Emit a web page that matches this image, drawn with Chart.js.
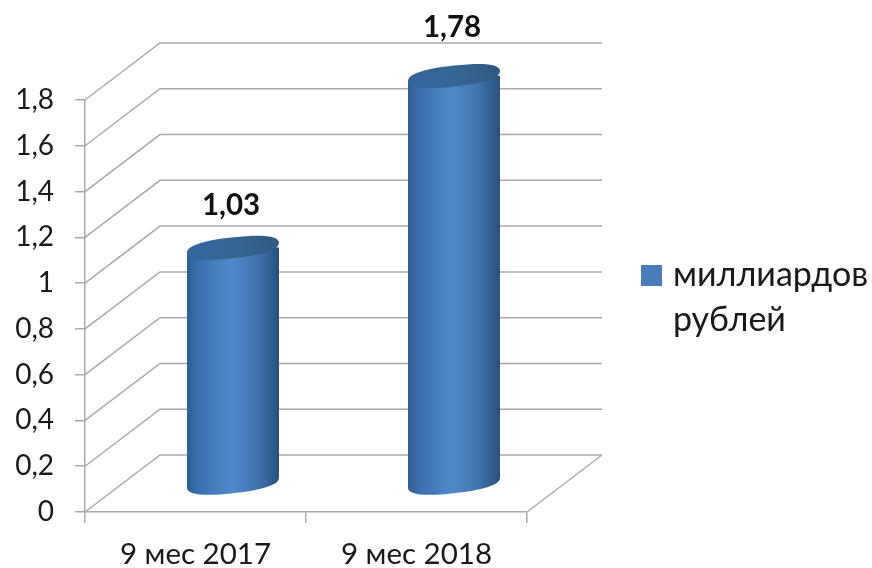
<!DOCTYPE html>
<html lang="ru">
<head>
    <meta charset="UTF-8">
    <title>9 мес 2017 / 2018</title>
    <script src="https://cdn.jsdelivr.net/npm/chart.js"></script>
    <style>
        html, body { margin: 0; background: #fff; }
        canvas { display: block; }
    </style>
</head>
<body>
    <canvas id="myChart" width="872" height="568"></canvas>

    <script>
        const categories = ["9 мес 2017", "9 мес 2018"];
        const values = [1.03, 1.78];
        const valueLabels = ["1,03", "1,78"];
        const seriesName = "миллиардов рублей";
        const legendLines = ["миллиардов", "рублей"];

        const FONT = "Lato, 'Open Sans', sans-serif";
        const LINE = "#a9a9a9";
        // глубина псевдо-3D: задняя стенка и середина пола
        const DEPTH_X = 75, DEPTH_Y = 57;
        const BAR_W = 92, TILT = 5, CAP_RY = 10.5;
        // расстояние от центра крышки до базовой линии подписи
        const labelLift = [33, 39];

        function bodyGradient(ctx, cx) {
            const left = cx - BAR_W / 2;
            const g = ctx.createLinearGradient(left, 0, left + BAR_W, 0);
            g.addColorStop(0, "#2f5c92");
            g.addColorStop(0.12, "#3b70ae");
            g.addColorStop(0.48, "#4f88c9");
            g.addColorStop(0.75, "#4375b0");
            g.addColorStop(0.93, "#2f5a8c");
            g.addColorStop(1, "#2a5079");
            return g;
        }

        // крышка цилиндра: скруглённый эллипс со сдвигом, края совпадают с боками столбца
        function fillCap(ctx, cx, cy, fill) {
            const a = BAR_W / 2, b = CAP_RY, k = 0.66;
            ctx.save();
            ctx.transform(1, -TILT / a, 0, 1, cx, cy);
            ctx.beginPath();
            ctx.moveTo(-a, 0);
            ctx.bezierCurveTo(-a, -k * b, -k * a, -b, 0, -b);
            ctx.bezierCurveTo(k * a, -b, a, -k * b, a, 0);
            ctx.bezierCurveTo(a, k * b, k * a, b, 0, b);
            ctx.bezierCurveTo(-k * a, b, -a, k * b, -a, 0);
            ctx.closePath();
            ctx.restore();
            ctx.fillStyle = fill;
            ctx.fill();
        }

        // стенки и пол рисуем по шкалам
        const wallsPlugin = {
            id: "walls",
            beforeDatasetsDraw(chart) {
                const { ctx, scales } = chart;
                const left = scales.x.left, right = scales.x.right;
                ctx.save();
                ctx.strokeStyle = LINE;
                ctx.lineWidth = 1.5;
                scales.y.ticks.forEach(t => {
                    const y = scales.y.getPixelForValue(t.value);
                    ctx.beginPath();
                    ctx.moveTo(left, y);
                    ctx.lineTo(left + DEPTH_X, y - DEPTH_Y);
                    ctx.lineTo(right + DEPTH_X, y - DEPTH_Y);
                    ctx.stroke();
                });
                const y0 = scales.y.getPixelForValue(0);
                ctx.beginPath();
                ctx.moveTo(right, y0);
                ctx.lineTo(right + DEPTH_X, y0 - DEPTH_Y);
                ctx.stroke();
                ctx.restore();
            }
        };

        // цилиндры: сам столбец рисует Chart.js, сдвинутый на середину глубины
        const cylinderPlugin = {
            id: "cylinder",
            beforeDatasetDraw(chart, args) {
                const { ctx } = chart;
                const bars = args.meta.data;
                ctx.save();
                ctx.translate(DEPTH_X / 2, -DEPTH_Y / 2);
                bars.forEach(bar => {
                    const g = bodyGradient(ctx, bar.x);
                    const l = bar.x - BAR_W / 2, r = bar.x + BAR_W / 2;
                    fillCap(ctx, bar.x, bar.base, g);
                    // клин под столбцом, чтобы дно не отставало от наклона
                    ctx.beginPath();
                    ctx.moveTo(l, bar.base - TILT);
                    ctx.lineTo(r, bar.base - TILT);
                    ctx.lineTo(l, bar.base + TILT);
                    ctx.closePath();
                    ctx.fillStyle = g;
                    ctx.fill();
                });
                ctx.beginPath();
                bars.forEach(bar => {
                    const l = bar.x - BAR_W / 2, r = bar.x + BAR_W / 2;
                    ctx.moveTo(l, bar.y + TILT);
                    ctx.lineTo(r, bar.y - TILT);
                    ctx.lineTo(r, bar.base - TILT);
                    ctx.lineTo(l, bar.base + TILT);
                    ctx.closePath();
                });
                ctx.clip();
            },
            afterDatasetDraw(chart, args) {
                const { ctx } = chart;
                ctx.restore();
                ctx.save();
                ctx.translate(DEPTH_X / 2, -DEPTH_Y / 2);
                args.meta.data.forEach(bar => {
                    const l = bar.x - BAR_W / 2;
                    const g = ctx.createLinearGradient(l, 0, l + BAR_W, 0);
                    g.addColorStop(0, "#33659f");
                    g.addColorStop(0.5, "#376593");
                    g.addColorStop(1, "#30587f");
                    fillCap(ctx, bar.x, bar.y, g);
                });
                ctx.restore();

                // подписи значений
                ctx.save();
                ctx.font = "bold 29.5px " + FONT;
                ctx.fillStyle = "#111";
                ctx.textAlign = "center";
                ctx.textBaseline = "alphabetic";
                args.meta.data.forEach((bar, i) => {
                    ctx.fillText(valueLabels[i], bar.x + DEPTH_X / 2 - 2, bar.y - DEPTH_Y / 2 - labelLift[i]);
                });
                ctx.restore();
            }
        };

        const legendPlugin = {
            id: "sideLegend",
            afterDraw(chart) {
                const { ctx } = chart;
                ctx.save();
                ctx.fillStyle = "#4a7ebb";
                ctx.fillRect(641, 265, 21, 21);
                ctx.font = "34px " + FONT;
                ctx.fillStyle = "#1a1a1a";
                ctx.textBaseline = "alphabetic";
                legendLines.forEach((line, i) => ctx.fillText(line, 673, 286 + i * 45));
                ctx.restore();
            }
        };

        new Chart(document.getElementById("myChart"), {
            type: "bar",
            data: {
                labels: categories,
                datasets: [{
                    label: seriesName,
                    data: values,
                    barThickness: BAR_W,
                    clip: false,
                    backgroundColor(c) {
                        const cx = c.chart.scales.x ? c.chart.scales.x.getPixelForValue(c.dataIndex) : NaN;
                        if (!Number.isFinite(cx)) return "#4a7ebb";
                        return bodyGradient(c.chart.ctx, cx);
                    }
                }]
            },
            options: {
                responsive: false,
                animation: false,
                layout: { padding: { top: 100, right: 345, left: 0, bottom: 0 } },
                plugins: { legend: { display: false }, tooltip: { enabled: false } },
                scales: {
                    x: {
                        afterFit(scale) { scale.height = 56; },
                        grid: { drawOnChartArea: false, color: LINE, tickLength: 11, lineWidth: 1.5 },
                        border: { color: LINE, width: 1.5 },
                        ticks: { color: "#1a1a1a", font: { family: FONT, size: 29.5 }, padding: 14, maxRotation: 0 }
                    },
                    y: {
                        min: 0,
                        max: 1.8,
                        afterFit(scale) { scale.width = 85; },
                        grid: { drawOnChartArea: false, color: LINE, tickLength: 10, lineWidth: 1.5 },
                        border: { color: LINE, width: 1.5 },
                        ticks: {
                            stepSize: 0.2,
                            color: "#1a1a1a",
                            font: { family: FONT, size: 28 },
                            padding: 21,
                            callback: v => String(Math.round(v * 10) / 10).replace(".", ",")
                        }
                    }
                }
            },
            plugins: [wallsPlugin, cylinderPlugin, legendPlugin]
        });
    </script>
</body>
</html>
